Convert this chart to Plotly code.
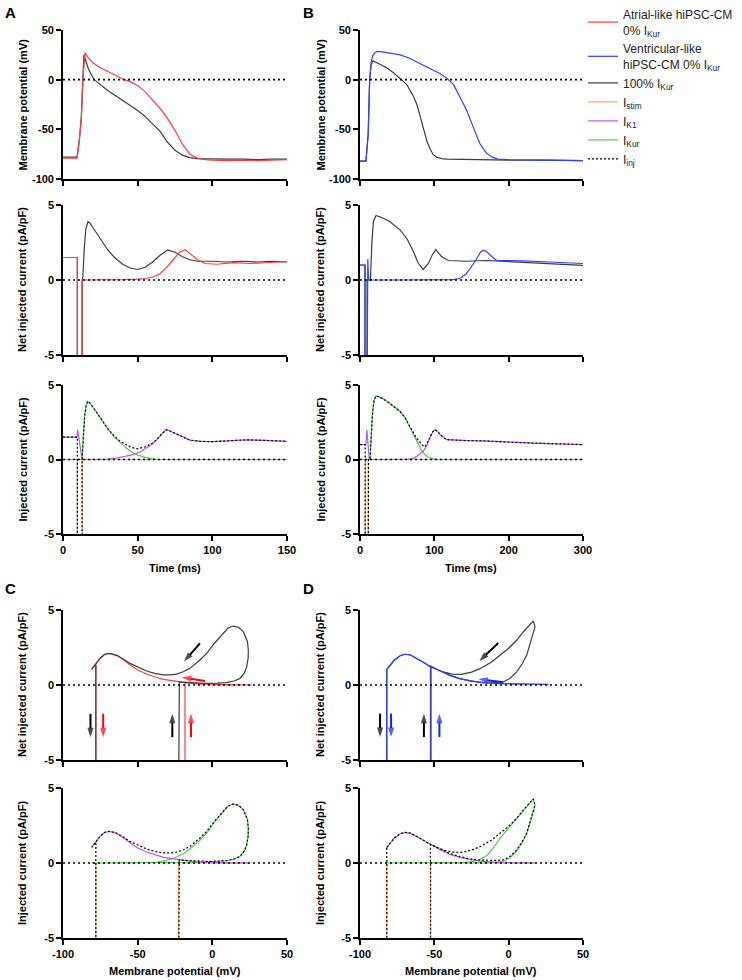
import plotly.graph_objects as go

W, H = 742, 980

RED = "#ff3b3b"
BLUE = "#2f3fff"
DARK = "#3c3c3c"
ORANGE = "#ffa463"
VIOLET = "#b658e6"
GREEN = "#4ccd4c"

# ---- Panel A: atrial-like, time course (ms) ----
a_t_black = [0, 9.4, 11, 12.3, 13.3, 14, 15, 17, 19, 21, 25, 30, 35, 40, 45, 50, 55, 60, 65, 70,
             75, 80, 85, 90, 100, 110, 120, 130, 140, 150]
a_v_black = [-78, -78, -60, -37, 0, 25, 20, 11, 5, 0, -5, -11, -16, -21, -26, -31, -37, -44, -52, -63,
             -71, -76, -78.5, -79.5, -80, -80, -80, -80.5, -80, -80]
a_t_red = [0, 9.4, 11, 12.3, 13.3, 14.7, 16, 18, 20, 25, 30, 35, 41, 45, 50, 55, 60, 65, 70, 75,
           80, 85, 90, 95, 100, 110, 120, 130, 140, 150]
a_v_red = [-79, -79, -60, -38, 0, 27, 24, 20, 17, 12, 8, 4, 0, -2, -6, -12, -20, -29, -39, -51,
           -65, -75, -79, -80.5, -81, -81.5, -81, -81.5, -81, -80.5]

a_t_net_black = [0, 9.6, 9.6, 12.8, 12.8, 13.3, 14.3, 15.3, 16.7, 18, 20, 25, 30, 35, 40, 45, 50, 55,
                 60, 65, 70, 75, 80, 85, 90, 100, 110, 120, 130, 140, 150]
a_i_net_black = [1.5, 1.5, -8, -8, 0, 0.2, 2.2, 3.4, 3.88, 3.8, 3.5, 2.75, 2.0, 1.45, 1.05, 0.8, 0.7, 0.85,
                 1.2, 1.65, 2.0, 1.85, 1.55, 1.35, 1.25, 1.25, 1.2, 1.25, 1.2, 1.25, 1.2]
a_t_net_red = [0, 9.6, 9.6, 12.8, 12.8, 20, 30, 40, 50, 55, 60, 65, 70, 75, 78, 82, 86, 90, 95,
               103, 114, 125, 135, 150]
a_i_net_red = [1.5, 1.5, -8, -8, 0, 0, 0, 0.02, 0.06, 0.1, 0.2, 0.42, 0.9, 1.5, 1.85, 2.02, 1.7, 1.35, 1.1,
               1.05, 1.16, 1.1, 1.15, 1.22]

a_t_stim = [0, 9.6, 9.6, 12.8, 12.8, 150]
a_i_stim = [0, 0, -8, -8, 0, 0]
a_t_k1 = [0, 9.4, 9.8, 12.8, 20, 30, 36, 42, 47, 52, 56, 60, 63, 66, 69, 72, 75, 80, 85, 92,
          100, 110, 123, 136, 150]
a_i_k1 = [1.5, 1.5, 2.0, 0, 0, 0.02, 0.1, 0.2, 0.33, 0.52, 0.78, 1.05, 1.35, 1.7, 2.0, 1.9, 1.75, 1.5, 1.3, 1.22,
          1.2, 1.25, 1.32, 1.28, 1.22]
a_t_kur = [0, 12.8, 13.5, 14.5, 15.5, 16.5, 18, 20, 23, 26, 30, 34, 38, 42, 46, 50, 55, 60, 65, 150]
a_i_kur = [0, 0, 1.5, 2.9, 3.6, 3.9, 3.8, 3.55, 3.1, 2.65, 2.05, 1.55, 1.15, 0.8, 0.5, 0.3, 0.14, 0.04, 0, 0]
a_t_inj = [0, 9.6, 9.6, 12.8, 12.8, 13.5, 14.5, 15.5, 16.5, 18, 20, 23, 26, 30, 34, 38, 42, 46, 50, 55,
           60, 63, 66, 69, 72, 75, 80, 85, 92, 100, 110, 123, 136, 150]
a_i_inj = [1.5, 1.5, -8, -8, 0, 1.5, 2.9, 3.6, 3.9, 3.8, 3.55, 3.1, 2.65, 2.07, 1.6, 1.25, 1.0, 0.8, 0.72, 0.84,
           1.1, 1.37, 1.71, 2.0, 1.9, 1.75, 1.5, 1.3, 1.22, 1.2, 1.25, 1.32, 1.28, 1.22]

# ---- Panel B: ventricular-like, time course (ms) ----
b_t_black = [0, 8, 11, 13, 15, 17.5, 20, 25, 30, 36, 45, 54, 63, 72, 77, 81, 84, 87, 90, 94,
             98, 103, 110, 117, 150, 200, 250, 300]
b_v_black = [-82, -82, -55, 0, 15, 19, 18, 16, 14, 12, 7, 1, -5, -17, -26, -37, -46, -54, -62, -69,
             -75, -78, -79.5, -80, -80.5, -81, -81, -81.5]
b_t_blue = [0, 8, 11, 13, 15, 17, 20, 23, 30, 40, 54, 65, 76, 88, 99, 108, 117, 126, 134, 143,
            152, 161, 170, 178, 185, 200, 250, 300]
b_v_blue = [-82, -82, -55, 0, 18, 24, 27, 28.5, 28, 27, 25, 22, 18, 14, 10, 6, 1.3, -5, -17, -30,
            -47, -64, -74, -78, -80, -80.5, -81, -81.5]

b_t_net_black = [0, 6.7, 6.7, 9.5, 9.5, 14, 16, 18, 21.5, 30, 40, 54, 63, 72, 78, 85, 92, 97, 102,
                 106, 110, 119, 143, 170, 211, 256, 300]
b_i_net_black = [1.0, 1.0, -8, -8, 0, 0, 2.5, 3.9, 4.3, 4.15, 3.9, 3.33, 2.77, 1.88, 1.15, 0.7, 1.1, 1.65, 2.03,
                 1.8, 1.54, 1.3, 1.25, 1.3, 1.2, 1.1, 0.98]
b_t_net_blue = [0, 6.7, 6.7, 9.5, 10.5, 11.5, 60, 110, 125, 134, 143, 148, 153, 158, 162, 166, 170, 175,
                180, 184, 200, 220, 255, 300]
b_i_net_blue = [1.0, 1.0, -8, -8, 1.4, 0, 0, 0, 0.03, 0.1, 0.42, 0.75, 1.1, 1.5, 1.85, 2.0, 1.9, 1.65,
                1.45, 1.3, 1.3, 1.27, 1.2, 1.1]

b_t_stim = [0, 7, 7, 11, 11, 300]
b_i_stim = [0, 0, -8, -8, 0, 0]
b_t_k1 = [0, 8, 9.2, 12.5, 40, 65, 72, 76, 80, 85, 90, 94, 98, 101, 104, 108, 112, 117, 130, 143,
          165, 188, 210, 233, 265, 300]
b_i_k1 = [1.0, 1.0, 2.0, 0, 0, 0.02, 0.08, 0.18, 0.33, 0.55, 0.95, 1.44, 1.85, 2.0, 1.9, 1.67, 1.48, 1.33, 1.28, 1.27,
          1.25, 1.22, 1.15, 1.1, 1.05, 1.0]
b_t_kur = [0, 13.5, 15, 17, 19, 21.5, 25, 30, 40, 47, 54, 60, 63, 67, 72, 76, 79, 83, 87, 92, 99, 105, 300]
b_i_kur = [0, 0, 1.5, 3.2, 4.0, 4.27, 4.2, 4.1, 3.78, 3.5, 3.22, 2.85, 2.55, 2.15, 1.67, 1.25, 0.95, 0.6, 0.33,
           0.15, 0.04, 0, 0]
b_t_inj = [0, 7, 7, 11, 11.5, 13.5, 15, 17, 19, 21.5, 25, 30, 40, 47, 54, 60, 63, 67, 72, 76, 79, 83, 87, 90,
           94, 98, 101, 104, 108, 112, 117, 130, 143, 165, 188, 210, 233, 265, 300]
b_i_inj = [1.0, 1.0, -8, -8, 0, 0, 1.5, 3.2, 4.0, 4.27, 4.2, 4.1, 3.78, 3.5, 3.22, 2.85, 2.57, 2.17, 1.75, 1.43,
           1.28, 1.0, 0.85, 1.05, 1.5, 1.87, 2.0, 1.9, 1.67, 1.48, 1.33, 1.28, 1.27, 1.25, 1.22, 1.15, 1.1, 1.05, 1.0]

# ---- Panel C: atrial-like, current vs membrane potential (mV) ----
c_v_black = [-78, -78, -22.6, -22.1, -19.4, -10, -3.8, 3, 9.6, 15, 18.5, 21.5, 23, 24, 24.1, 23.5, 20.7, 17.5,
             14, 10.5, 7.3, 2, -3.8, -9, -15, -19.5, -23.9, -28, -32.8, -38, -44, -50, -55.1, -60, -64,
             -68.5, -72, -75, -78, -80.8]
c_i_black = [1.33, -8, -8, 0.2, 0.18, 0.13, 0.11, 0.12, 0.16, 0.28, 0.44, 0.8, 1.22, 1.8, 2.33, 2.9, 3.56, 3.85,
             3.93, 3.8, 3.44, 2.85, 2.11, 1.6, 1.11, 0.88, 0.73, 0.67, 0.67, 0.76, 0.93, 1.18, 1.44, 1.75, 1.98,
             2.11, 2.05, 1.8, 1.4, 1.04]
c_v_red = [-78, -78, -18.3, -18.3, -10, 0, 10, 26.5, 10, 0, -8, -15, -21.6, -27, -32.8, -38, -44, -50, -55,
           -60, -64, -68.5, -72, -75, -78, -80.8]
c_i_red = [1.33, -8, -8, 0.2, 0.08, 0.03, 0.01, 0, 0.01, 0.03, 0.06, 0.12, 0.22, 0.29, 0.38, 0.53, 0.73, 1.0, 1.33,
           1.72, 1.98, 2.1, 2.05, 1.8, 1.4, 1.04]
c_v_stim = [-80.8, -78, -78, -22.6, -22.6, 24.5]
c_i_stim = [0, 0, -8, -8, 0, 0]
c_v_k1 = [-80.8, -78, -75, -72, -68.5, -65, -60, -55, -50, -44, -38, -32.8, -27, -21.6, -15, -8, 0, 10, 24.5]
c_i_k1 = [1.04, 1.4, 1.8, 2.05, 2.1, 2.03, 1.72, 1.33, 1.0, 0.73, 0.53, 0.38, 0.29, 0.2, 0.12, 0.06, 0.03, 0.01, 0]
c_v_kur = [-78, -22, -10, -3.8, 3, 9.6, 15, 18.5, 21.5, 23, 24, 24.1, 23.5, 20.7, 17.5, 14, 10.5, 7.3, 2, -3.8,
           -9, -15, -19.5, -23.9, -28, -32.8, -38, -44, -52, -80.8]
c_i_kur = [0, 0, 0.05, 0.08, 0.1, 0.15, 0.27, 0.43, 0.8, 1.22, 1.8, 2.33, 2.9, 3.56, 3.85, 3.93, 3.8, 3.44, 2.8, 2.0,
           1.45, 0.95, 0.6, 0.4, 0.25, 0.13, 0.05, 0.02, 0, 0]

# ---- Panel D: ventricular-like, current vs membrane potential (mV) ----
d_v_black = [-82, -82, -52.6, -52.6, -46, -39.5, -33, -26, -20, -14.8, -8, -3.6, 1, 5.4, 9, 12.1, 15, 17.7,
             16.6, 14, 10, 5.4, 0, -5.8, -12, -19.3, -25, -31.6, -38, -44, -52.9, -58, -62, -66, -69.7, -73,
             -77, -80, -82.5]
d_i_black = [1.0, -8, -8, 1.25, 0.93, 0.64, 0.43, 0.27, 0.2, 0.17, 0.17, 0.2, 0.45, 0.87, 1.4, 1.98, 2.9, 3.87,
             4.27, 4.0, 3.55, 2.98, 2.45, 1.98, 1.5, 1.09, 0.86, 0.71, 0.73, 0.87, 1.24, 1.55, 1.8, 2.0, 2.05, 1.95,
             1.65, 1.3, 0.98]
d_v_blue = [-82, -82, -52.2, -52.2, -46, -39.5, -33, -26, -20, -14.8, -8, -3.6, 5, 15, 26.7, 15, 5, -3.6,
            -8, -14.8, -20, -26, -33, -39.5, -46, -52.9, -58, -62, -66, -69.7, -73, -77, -80, -82.5]
d_i_blue = [1.0, -8, -8, 1.25, 0.93, 0.64, 0.43, 0.27, 0.18, 0.13, 0.1, 0.09, 0.06, 0.05, 0.04, 0.05, 0.06, 0.09,
            0.1, 0.13, 0.18, 0.27, 0.43, 0.64, 0.93, 1.24, 1.55, 1.8, 2.0, 2.05, 1.95, 1.65, 1.3, 0.98]
d_v_stim = [-82.5, -82, -82, -52.4, -52.4, 17.7]
d_i_stim = [0, 0, -8, -8, 0, 0]
d_v_k1 = [-82.5, -80, -77, -73, -69.7, -66, -61, -56, -52.7, -46, -39.2, -32, -25.8, -19, -12.3, -5.6, 5, 17.7]
d_i_k1 = [0.95, 1.3, 1.65, 1.95, 2.03, 1.97, 1.72, 1.45, 1.27, 0.88, 0.56, 0.36, 0.22, 0.13, 0.07, 0.03, 0.01, 0]
d_v_kur = [-82, -20, -14.8, -8, -3.6, 1, 5.4, 9, 12.1, 15, 17.7, 16.6, 14, 10, 5.4, 0, -5.8, -10, -14.4, -20,
           -26, -33, -40, -82.5]
d_i_kur = [0, 0, 0.02, 0.06, 0.1, 0.35, 0.8, 1.35, 1.95, 2.85, 3.85, 4.27, 3.97, 3.5, 2.92, 2.35, 1.65, 1.05, 0.52, 0.2,
           0.07, 0.01, 0, 0]

# direction arrows in C and D: (subplot, tail V, tail I, head V, head I, colour)
arrows = [
    (7, -81.6, -1.92, -81.6, -3.48, "#000000"),
    (7, -73.1, -1.92, -73.1, -3.48, "#ff0000"),
    (7, -26.8, -3.48, -26.8, -1.92, "#000000"),
    (7, -14.3, -3.48, -14.3, -1.92, "#ff0000"),
    (7, -8.3, 2.78, -19.0, 1.56, "#000000"),
    (7, -4.9, 0.27, -20.5, 0.51, "#ff0000"),
    (9, -86.5, -1.91, -86.5, -3.47, "#000000"),
    (9, -79.1, -1.91, -79.1, -3.47, "#0a22ff"),
    (9, -57.0, -3.47, -57.0, -1.91, "#000000"),
    (9, -46.6, -3.47, -46.6, -1.91, "#0a22ff"),
    (9, -7.0, 2.8, -19.7, 1.6, "#000000"),
    (9, -3.6, 0.18, -20.4, 0.4, "#0a22ff"),
]

FONT = "Arial, Liberation Sans, Helvetica, sans-serif"
TICKFONT = dict(family=FONT, size=11, color="black", weight="bold")

# pixel boxes of the ten subplots
left_x = (63, 287)
right_x = (360, 583)
rows = [(30, 179), (205, 355), (385, 534), (610, 760), (788, 938)]

panels = {
    1: (left_x, rows[0], [0, 150], [-100, 50], [0, 50, 100, 150], [-100, -50, 0, 50], False),
    2: (left_x, rows[1], [0, 150], [-5, 5], [0, 50, 100, 150], [-5, 0, 5], False),
    3: (left_x, rows[2], [0, 150], [-5, 5], [0, 50, 100, 150], [-5, 0, 5], True),
    4: (right_x, rows[0], [0, 300], [-100, 50], [0, 100, 200, 300], [-100, -50, 0, 50], False),
    5: (right_x, rows[1], [0, 300], [-5, 5], [0, 100, 200, 300], [-5, 0, 5], False),
    6: (right_x, rows[2], [0, 300], [-5, 5], [0, 100, 200, 300], [-5, 0, 5], True),
    7: (left_x, rows[3], [-100, 50], [-5, 5], [-100, -50, 0, 50], [-5, 0, 5], False),
    8: (left_x, rows[4], [-100, 50], [-5, 5], [-100, -50, 0, 50], [-5, 0, 5], True),
    9: (right_x, rows[3], [-100, 50], [-5, 5], [-100, -50, 0, 50], [-5, 0, 5], False),
    10: (right_x, rows[4], [-100, 50], [-5, 5], [-100, -50, 0, 50], [-5, 0, 5], True),
}


def ax(n, letter):
    return letter if n == 1 else f"{letter}{n}"


def line(x, y, color, n, width=1.2, dash=None, name=None, rank=1000):
    return go.Scatter(
        x=x, y=y, mode="lines",
        line=dict(color=color, width=width, dash=dash),
        xaxis=ax(n, "x"), yaxis=ax(n, "y"),
        name=name if name else "",
        showlegend=name is not None,
        legendrank=rank,
        hoverinfo="skip",
    )


def arrow(n, tx, ty, hx, hy, color):
    return go.Scatter(
        x=[tx, hx], y=[ty, hy], mode="lines+markers",
        line=dict(color=color, width=2),
        marker=dict(symbol="arrow", size=[0, 10], angleref="previous", color=color, line=dict(width=0)),
        xaxis=ax(n, "x"), yaxis=ax(n, "y"), showlegend=False, hoverinfo="skip",
    )


INJ_DASH = "2px,2px"
traces = [
    # A
    line(a_t_black, a_v_black, DARK, 1, name="100% I<sub>Kur</sub>", rank=3),
    line(a_t_red, a_v_red, RED, 1, name="Atrial-like hiPSC-CM<br>0% I<sub>Kur</sub>", rank=1),
    line(a_t_net_black, a_i_net_black, DARK, 2),
    line(a_t_net_red, a_i_net_red, RED, 2),
    line(a_t_stim, a_i_stim, ORANGE, 3, name="I<sub>stim</sub>", rank=4),
    line(a_t_kur, a_i_kur, GREEN, 3, name="I<sub>Kur</sub>", rank=6),
    line(a_t_k1, a_i_k1, VIOLET, 3, name="I<sub>K1</sub>", rank=5),
    line(a_t_inj, a_i_inj, "black", 3, dash=INJ_DASH, name="I<sub>inj</sub>", rank=7),
    # B
    line(b_t_black, b_v_black, DARK, 4),
    line(b_t_blue, b_v_blue, BLUE, 4, name="Ventricular-like<br>hiPSC-CM 0% I<sub>Kur</sub>", rank=2),
    line(b_t_net_black, b_i_net_black, DARK, 5),
    line(b_t_net_blue, b_i_net_blue, BLUE, 5),
    line(b_t_stim, b_i_stim, ORANGE, 6),
    line(b_t_kur, b_i_kur, GREEN, 6),
    line(b_t_k1, b_i_k1, VIOLET, 6),
    line(b_t_inj, b_i_inj, "black", 6, dash=INJ_DASH),
    # C
    line(c_v_red, c_i_red, RED, 7),
    line(c_v_black, c_i_black, DARK, 7),
    line(c_v_stim, c_i_stim, ORANGE, 8),
    line(c_v_kur, c_i_kur, GREEN, 8),
    line(c_v_k1, c_i_k1, VIOLET, 8),
    line(c_v_black, c_i_black, "black", 8, dash=INJ_DASH),
    # D
    line(d_v_black, d_i_black, DARK, 9),
    line(d_v_blue, d_i_blue, BLUE, 9),
    line(d_v_stim, d_i_stim, ORANGE, 10),
    line(d_v_kur, d_i_kur, GREEN, 10),
    line(d_v_k1, d_i_k1, VIOLET, 10),
    line(d_v_black, d_i_black, "black", 10, dash=INJ_DASH),
]
traces += [arrow(*a) for a in arrows]

fig = go.Figure(traces)

layout = {}
shapes = []
for n, (xs, ys, xr, yr, xt, yt, xlabels) in panels.items():
    layout[ax(n, "xaxis")] = dict(
        domain=[xs[0] / W, xs[1] / W], anchor=ax(n, "y"), range=xr,
        tickvals=xt, ticktext=[str(v) for v in xt],
        showticklabels=xlabels, tickfont=TICKFONT,
        showline=True, linecolor="black", linewidth=1.6, ticks="outside",
        ticklen=5, tickwidth=1.6, tickcolor="black", showgrid=False, zeroline=False,
    )
    layout[ax(n, "yaxis")] = dict(
        domain=[1 - ys[1] / H, 1 - ys[0] / H], anchor=ax(n, "x"), range=yr,
        tickvals=yt, ticktext=[str(v) for v in yt],
        tickfont=TICKFONT,
        showline=True, linecolor="black", linewidth=1.6, ticks="outside",
        ticklen=5, tickwidth=1.6, tickcolor="black", showgrid=False, zeroline=False,
    )
    shapes.append(dict(
        type="line", xref=ax(n, "x") + " domain", yref=ax(n, "y"),
        x0=0, x1=1, y0=0, y1=0, layer="above",
        line=dict(color="black", width=1.6, dash="2px,3px"),
    ))


def paper_text(text, xpx, ypx, size=11, angle=0):
    return dict(
        text=text, x=xpx / W, y=1 - ypx / H, xref="paper", yref="paper",
        showarrow=False, xanchor="center", yanchor="middle", textangle=angle,
        font=dict(family=FONT, size=size, color="black", weight="bold"),
    )


annotations = [
    paper_text("A", 10, 12, 15),
    paper_text("B", 308, 12, 15),
    paper_text("C", 10, 588, 15),
    paper_text("D", 308, 588, 15),
]
for xpx in (22, 320):
    annotations.append(paper_text("Membrane potential (mV)", xpx, 104.5, angle=-90))
    annotations.append(paper_text("Net injected current (pA/pF)", xpx, 280, angle=-90))
    annotations.append(paper_text("Injected current (pA/pF)", xpx, 459.5, angle=-90))
    annotations.append(paper_text("Net injected current (pA/pF)", xpx, 685, angle=-90))
    annotations.append(paper_text("Injected current (pA/pF)", xpx, 863, angle=-90))
annotations.append(paper_text("Time (ms)", 175, 568))
annotations.append(paper_text("Time (ms)", 471.5, 568))
annotations.append(paper_text("Membrane potential (mV)", 175, 971))
annotations.append(paper_text("Membrane potential (mV)", 471.5, 971))

fig.update_layout(
    width=W, height=H,
    margin=dict(l=0, r=0, t=0, b=0, autoexpand=False),
    paper_bgcolor="white", plot_bgcolor="white",
    shapes=shapes, annotations=annotations,
    legend=dict(
        x=583 / W, y=1.0, xanchor="left", yanchor="top",
        font=dict(family=FONT, size=12, color="#222222"),
        bgcolor="rgba(0,0,0,0)", itemwidth=30,
    ),
    **layout,
)

# the page's default body margin would shift the figure by 8px
fig.write_html(
    "out.html",
    config={"displayModeBar": False},
    post_script="document.body.style.margin = '0px';",
)
